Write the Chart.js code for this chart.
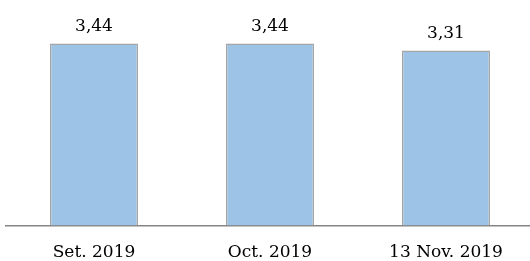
<!DOCTYPE html>
<html>
<head>
<meta charset="utf-8">
<script src="https://cdn.jsdelivr.net/npm/chart.js@4"></script>
<style>
  html, body { margin: 0; padding: 0; background: #fff; overflow: hidden; }
  #wrap { width: 530px; height: 261px; overflow: hidden; }
</style>
</head>
<body>
<div id="wrap"><canvas id="myChart" width="540" height="280"></canvas></div>
<script>
'use strict';
let categories=['Set. 2019','Oct. 2019','13 Nov. 2019'];
let values=[3.44,3.44,3.31];

// value labels on top of the bars, with comma decimals
let valueLabels={
  id:'valueLabels',
  afterDatasetsDraw(chart){
    let ctx=chart.ctx;
    let meta=chart.getDatasetMeta(0);
    ctx.save();
    ctx.font='17px "DejaVu Serif", "Liberation Serif", serif';
    ctx.fillStyle='#000';
    ctx.textAlign='center';
    ctx.textBaseline='alphabetic';
    meta.data.forEach(function(bar,i){
      ctx.fillText(values[i].toFixed(2).replace('.',','),bar.x,bar.y-13);
    });
    ctx.restore();
  }
};

new Chart(document.getElementById('myChart'), {
  type: 'bar',
  data: {
    labels: categories,
    datasets: [{
      data: values,
      backgroundColor: '#9dc3e6',
      borderColor: '#a5a5a5',
      borderWidth: 1.5,
      barPercentage: 0.5,
      categoryPercentage: 1
    }]
  },
  options: {
    responsive: false,
    animation: false,
    layout: { padding: { left: 6, right: 6, top: 14 } },
    plugins: { legend: { display: false }, tooltip: { enabled: false } },
    scales: {
      y: { display: false, min: 0, max: 4 },
      x: {
        grid: { display: false, drawTicks: false },
        border: { display: true, color: '#868686', width: 1.5 },
        ticks: {
          color: '#000',
          padding: 17,
          font: { family: '"DejaVu Serif", "Liberation Serif", serif', size: 17 }
        }
      }
    }
  },
  plugins: [valueLabels]
});
</script>
</body>
</html>
